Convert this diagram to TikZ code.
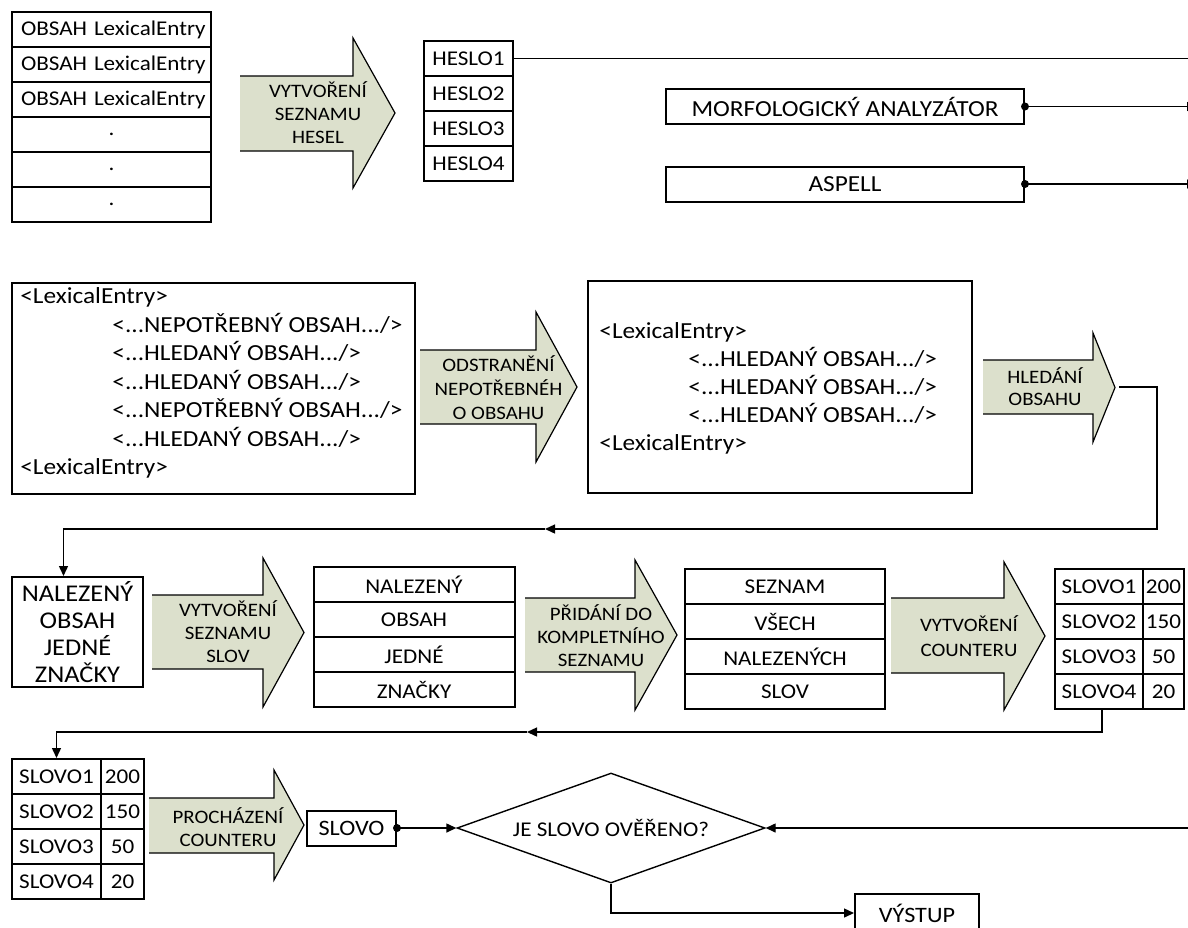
\documentclass[tikz,border=0pt]{standalone}
\usepackage{fontspec}
\setmainfont{Carlito}[FakeStretch=1.1]
\usetikzlibrary{arrows.meta,calc,shapes.geometric}
\definecolor{arrowfill}{RGB}{220,224,204}
\tikzset{
	cell/.style={draw,line width=1pt,inner sep=0pt,minimum height=17.5pt,font=\fontsize{10.5}{12}\selectfont},
	plainbox/.style={draw,line width=1pt,inner sep=0pt},
	conn/.style={line width=0.7pt},
	flow/.style={-{Triangle[length=5pt,width=4.5pt]}},
	arrowtext/.style={inner sep=0pt,align=center,font=\fontsize{9.5}{11.5}\selectfont},
	listtext/.style={inner sep=0pt,anchor=base west,font=\fontsize{11.5}{14}\selectfont}
}
% block arrow: left, neck, tip, body top, body bottom, head top, head bottom
\newcommand{\procarrow}[7]{%
	\fill[arrowfill] (#1,#4) -- (#2,#4) -- (#2,#6) -- (#3,{(#6+#7)/2}) -- (#2,#7) -- (#2,#5) -- (#1,#5) -- cycle;
	\draw[line width=0.6pt] (#1,#4) -- (#2,#4) -- (#2,#6) -- (#3,{(#6+#7)/2}) -- (#2,#7) -- (#2,#5) -- (#1,#5);}

\begin{document}
\begin{tikzpicture}[x=0.5pt,y=-0.5pt]
			\useasboundingbox (0,0) rectangle (1188,927);
			
			%%%%% ROW 1 %%%%%
			\node[cell,minimum width=99.5pt,text width=90.5pt,align=left] (lex1) at (111.5,29.5) {\mbox{OBSAH LexicalEntry}};
			\node[cell,minimum width=99.5pt,text width=90.5pt,align=left] (lex2) at (111.5,64.5) {\mbox{OBSAH LexicalEntry}};
			\node[cell,minimum width=99.5pt,text width=90.5pt,align=left] (lex3) at (111.5,99.5) {\mbox{OBSAH LexicalEntry}};
			\node[cell,minimum width=99.5pt] (lex4) at (111.5,134.5) {.};
			\node[cell,minimum width=99.5pt] (lex5) at (111.5,169.5) {.};
			\node[cell,minimum width=99.5pt] (lex6) at (111.5,204.5) {.};
			
			\procarrow{240}{353}{395}{76}{151}{38}{188}
			\node[arrowtext] (arr1) at (318,113) {VYTVOŘENÍ\\SEZNAMU\\HESEL};
			
			\node[cell,minimum width=44.5pt] (heslo1) at (468.5,58.5) {HESLO1};
			\node[cell,minimum width=44.5pt] (heslo2) at (468.5,93.5) {HESLO2};
			\node[cell,minimum width=44.5pt] (heslo3) at (468.5,128.5) {HESLO3};
			\node[cell,minimum width=44.5pt] (heslo4) at (468.5,163.5) {HESLO4};
			
			\node[plainbox,minimum width=179pt,minimum height=17.5pt,font=\fontsize{11.5}{13}\selectfont] (morf) at (845,106.5) {MORFOLOGICKÝ ANALYZÁTOR};
			\node[plainbox,minimum width=179pt,minimum height=17.5pt,font=\fontsize{11.5}{13}\selectfont] (aspell) at (845,184) {ASPELL};
			
			\coordinate (edge1) at (1190,58.5);
			\coordinate (edge2) at (1197,106.5);
			\coordinate (edge3) at (1197,184);
			\draw[conn] (heslo1.east) -- (edge1);
			\draw[conn,flow] (morf.east) -- (edge2);
			\draw[conn,flow] (aspell.east) -- (edge3);
			\fill (morf.east) circle (2pt);
			\fill (aspell.east) circle (2pt);
			
			%%%%% ROW 2 %%%%%
			\node[plainbox,minimum width=201.5pt,minimum height=105.5pt] (src) at (213.5,388.5) {};
			\node[listtext] (s1) at (20,303.5) {<LexicalEntry>};
			\node[listtext] (s2) at (112,332) {<...NEPOTŘEBNÝ OBSAH.../>};
			\node[listtext] (s3) at (112,360.5) {<...HLEDANÝ OBSAH.../>};
			\node[listtext] (s4) at (112,389) {<...HLEDANÝ OBSAH.../>};
			\node[listtext] (s5) at (112,417.5) {<...NEPOTŘEBNÝ OBSAH.../>};
			\node[listtext] (s6) at (112,446) {<...HLEDANÝ OBSAH.../>};
			\node[listtext] (s7) at (20,474.5) {<LexicalEntry>};
			
			\procarrow{420}{536}{577}{350}{424}{312}{462}
			\node[arrowtext,font=\fontsize{9.5}{12}\selectfont] (arr2) at (498.5,388) {ODSTRANĚNÍ\\NEPOTŘEBNÉH\\O OBSAHU};
			
			\node[plainbox,minimum width=192pt,minimum height=106pt] (clean) at (780,387) {};
			\node[listtext] (c1) at (599,338) {<LexicalEntry>};
			\node[listtext] (c2) at (688,366) {<...HLEDANÝ OBSAH.../>};
			\node[listtext] (c3) at (688,394) {<...HLEDANÝ OBSAH.../>};
			\node[listtext] (c4) at (688,422) {<...HLEDANÝ OBSAH.../>};
			\node[listtext] (c5) at (599,450) {<LexicalEntry>};
			
			\procarrow{983}{1093}{1115}{360}{414}{333}{442}
			\node[arrowtext,font=\fontsize{9.5}{11}\selectfont] (arr3) at (1045,387) {HLEDÁNÍ\\OBSAHU};
			\coordinate (a3end) at (1119,387);
			\coordinate (turn1) at (1157,529);
			\coordinate (mid1) at (545,529);
			
			%%%%% ROW 3 %%%%%
			\node[plainbox,minimum width=65.5pt,minimum height=55pt,align=center,font=\fontsize{12}{13.5}\selectfont] (found) at (77.5,632) {NALEZENÝ\\OBSAH\\JEDNÉ\\ZNAČKY};
			\draw[conn,flow] (a3end) -| (turn1) -- (mid1);
			\draw[conn,flow] (mid1) -| ([xshift=-7pt]found.north);
			
			\procarrow{152}{263}{304}{595}{669}{558}{707}
			\node[arrowtext] (arr4) at (228,632) {VYTVOŘENÍ\\SEZNAMU\\SLOV};
			
			\node[cell,minimum width=100.5pt] (w1) at (414,584.5) {NALEZENÝ};
			\node[cell,minimum width=100.5pt] (w2) at (414,619.5) {OBSAH};
			\node[cell,minimum width=100.5pt] (w3) at (414,654.5) {JEDNÉ};
			\node[cell,minimum width=100.5pt] (w4) at (414,689.5) {ZNAČKY};
			
			\procarrow{525}{635}{677}{598}{672}{560}{710}
			\node[arrowtext] (arr5) at (601,636) {PŘIDÁNÍ DO\\KOMPLETNÍHO\\SEZNAMU};
			
			\node[cell,minimum width=100pt] (all1) at (785,586.5) {SEZNAM};
			\node[cell,minimum width=100pt] (all2) at (785,621.5) {VŠECH};
			\node[cell,minimum width=100pt] (all3) at (785,656.5) {NALEZENÝCH};
			\node[cell,minimum width=100pt] (all4) at (785,691.5) {SLOV};
			
			\procarrow{891}{1004}{1045}{598}{673}{562}{710}
			\node[arrowtext,font=\fontsize{9.5}{12.5}\selectfont] (arr6) at (969,636) {VYTVOŘENÍ\\COUNTERU};
			
			\node[cell,minimum width=44pt] (cw1) at (1099,586.5) {SLOVO1};
			\node[cell,minimum width=20.5pt] (cn1) at (1163.5,586.5) {200};
			\node[cell,minimum width=44pt] (cw2) at (1099,621.5) {SLOVO2};
			\node[cell,minimum width=20.5pt] (cn2) at (1163.5,621.5) {150};
			\node[cell,minimum width=44pt] (cw3) at (1099,656.5) {SLOVO3};
			\node[cell,minimum width=20.5pt] (cn3) at (1163.5,656.5) {50};
			\node[cell,minimum width=44pt] (cw4) at (1099,691.5) {SLOVO4};
			\node[cell,minimum width=20.5pt] (cn4) at (1163.5,691.5) {20};
			
			\coordinate (mid2) at (527,732);
			
			%%%%% ROW 4 %%%%%
			\node[cell,minimum width=44.5pt] (dw1) at (56.5,776.5) {SLOVO1};
			\node[cell,minimum width=21.5pt] (dn1) at (122.5,776.5) {200};
			\node[cell,minimum width=44.5pt] (dw2) at (56.5,811.5) {SLOVO2};
			\node[cell,minimum width=21.5pt] (dn2) at (122.5,811.5) {150};
			\node[cell,minimum width=44.5pt] (dw3) at (56.5,846.5) {SLOVO3};
			\node[cell,minimum width=21.5pt] (dn3) at (122.5,846.5) {50};
			\node[cell,minimum width=44.5pt] (dw4) at (56.5,881.5) {SLOVO4};
			\node[cell,minimum width=21.5pt] (dn4) at (122.5,881.5) {20};
			
			\draw[conn,flow] ([xshift=1.5pt]cw4.south) |- (mid2);
			\draw[conn,flow] (mid2) -| (dw1.north);
			
			\procarrow{149}{274}{304}{798}{853}{770}{880}
			\node[arrowtext] (arr7) at (228,827) {PROCHÁZENÍ\\COUNTERU};
			
			\node[plainbox,minimum width=44.5pt,minimum height=17.5pt,font=\fontsize{11}{13}\selectfont] (word) at (351.5,828) {SLOVO};
			\node[diamond,draw,line width=0.7pt,inner sep=0pt,aspect=2.8,minimum width=154pt,minimum height=55pt,font=\fontsize{10.5}{12}\selectfont] (check) at (611,828) {JE SLOVO OVĚŘENO?};
			\node[plainbox,minimum width=62pt,minimum height=19pt,font=\fontsize{11}{13}\selectfont] (out) at (917,913) {VÝSTUP};
			
			\coordinate (edge4) at (1190,828);
			\draw[conn,flow] (word.east) -- (check.west);
			\fill (word.east) circle (2pt);
			\draw[conn,flow] (edge4) -- (check.east);
			\draw[conn,flow] (check.south) |- (out.west);
			
		\end{tikzpicture}
\end{document}
